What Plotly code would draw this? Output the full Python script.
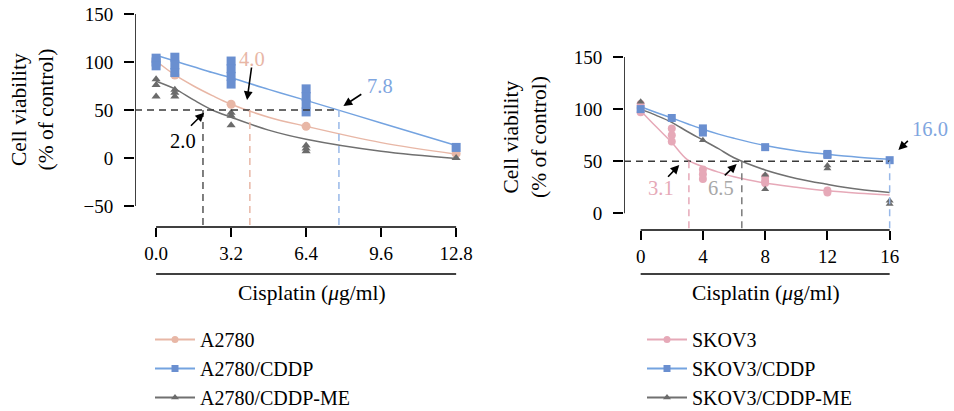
import plotly.graph_objects as go

# ---------------- A2780 panel ----------------
A_DOSE = [0, 0.8, 3.2, 6.4, 12.8]
A2780_REPS = [[101], [86.5], [56], [33], [4.5]]
A2780_CDDP_REPS = [[104, 100, 96], [105, 97, 89], [101, 93, 85, 77], [72, 64, 56, 48], [11]]
A2780_ME_REPS = [[82, 76, 64], [71, 68, 64], [47, 44, 34], [13, 10, 7], [0]]

A_FIT_X = [0, 0.8, 1.6, 2.4, 3.2, 4.8, 6.4, 9.6, 12.8]
A2780_FIT = [101, 86.5, 75, 65, 56, 42.5, 33, 16, 4]
A2780_CDDP_FIT = [107, 101, 95, 89, 83.5, 71.5, 60, 36.5, 13]
A2780_ME_FIT = [80, 72, 60.5, 50, 42.5, 29, 19.5, 7, -0.5]

A_IC50 = {"A2780": 4.0, "A2780/CDDP": 7.8, "A2780/CDDP-ME": 2.0}
A_XTICKS = [0, 3.2, 6.4, 9.6, 12.8]
A_YTICKS = [-50, 0, 50, 100, 150]

# ---------------- SKOV3 panel ----------------
S_DOSE = [0, 2, 4, 8, 12, 16]
SKOV3_REPS = [[105, 101, 97], [81.5, 75, 69], [42, 37.5, 33], [35, 31, 29], [22, 20], []]
SKOV3_CDDP_REPS = [[100], [91.5], [81.5, 77.5], [63.5], [57, 56], [51]]
SKOV3_ME_REPS = [[107], [], [70], [37, 23], [46, 43], [12, 9]]

S_FIT_X = [0, 1, 2, 3, 4, 5, 6, 8, 10, 12, 14, 16]
SKOV3_FIT = [98.5, 83, 68, 51.5, 44.7, 39.5, 35, 29, 25, 21.6, 19.3, 17.6]
SKOV3_CDDP_FIT = [102.3, 96.8, 91.5, 86, 80.6, 76, 72, 65, 60, 56.6, 53.8, 51.8]
SKOV3_ME_FIT = [100, 94, 87.3, 78.5, 70.3, 62, 53.3, 41.6, 33.5, 27.8, 23, 20]

S_IC50 = {"SKOV3": 3.1, "SKOV3/CDDP": 16.0, "SKOV3/CDDP-ME": 6.5}
S_XTICKS = [0, 4, 8, 12, 16]
S_YTICKS = [0, 50, 100, 150]

# ---------------- styling ----------------
FONT = "Liberation Serif"
PINK_A = "#e8b7a6"
PINK_S = "#e6a9b8"
BLUE_M = "#6a8fd0"
BLUE_L = "#74a3e0"
BLUE_D = "#98b8e8"
GREY_M = "#6b6b6b"
GREY_L = "#707070"

A_XRANGE = [-0.9, 13.4]
A_YRANGE = [-71.9, 150]
S_XRANGE = [-1.07, 19.8]
S_YRANGE = [-16.0, 150]


def flatten(doses, reps):
    xs = [d for d, r in zip(doses, reps) for _ in r]
    ys = [v for r in reps for v in r]
    return xs, ys


fig = go.Figure()


def add_panel(xa, ya, doses, fit_x, series, legend):
    # series: list of (name, reps, fit, marker_symbol, marker_color, line_color, msize)
    for name, reps, fit, sym, mcol, lcol, msz in series:
        fig.add_trace(go.Scatter(
            x=fit_x, y=fit, mode="lines", line=dict(color=lcol, width=1.5, shape="spline"),
            xaxis=xa, yaxis=ya, showlegend=False, hoverinfo="skip"))
    for name, reps, fit, sym, mcol, lcol, msz in series:
        xs, ys = flatten(doses, reps)
        fig.add_trace(go.Scatter(
            x=xs, y=ys, mode="markers", cliponaxis=False,
            marker=dict(symbol=sym, color=mcol, size=msz, line=dict(width=0)),
            xaxis=xa, yaxis=ya, showlegend=False))
    for name, reps, fit, sym, mcol, lcol, msz in series:
        fig.add_trace(go.Scatter(
            x=[None], y=[None], mode="lines+markers", name=name,
            line=dict(color=lcol, width=2), marker=dict(symbol=sym, color=mcol, size=7),
            xaxis=xa, yaxis=ya, legend=legend))


add_panel("x", "y", A_DOSE, A_FIT_X, [
    ("A2780", A2780_REPS, A2780_FIT, "circle", PINK_A, PINK_A, 9),
    ("A2780/CDDP", A2780_CDDP_REPS, A2780_CDDP_FIT, "square", BLUE_M, BLUE_L, 9),
    ("A2780/CDDP-ME", A2780_ME_REPS, A2780_ME_FIT, "triangle-up", GREY_M, GREY_L, 8),
], "legend")
add_panel("x2", "y2", S_DOSE, S_FIT_X, [
    ("SKOV3", SKOV3_REPS, SKOV3_FIT, "circle", PINK_S, PINK_S, 8),
    ("SKOV3/CDDP", SKOV3_CDDP_REPS, SKOV3_CDDP_FIT, "square", BLUE_M, BLUE_L, 8),
    ("SKOV3/CDDP-ME", SKOV3_ME_REPS, SKOV3_ME_FIT, "triangle-up", GREY_M, GREY_L, 7),
], "legend2")

shapes = []
DASH = "7px,5px"


def panel_shapes(xr, yr, yticks, xmax, ic50, colors, xa, ya, dom_y0, under_y):
    # y axis line spanning the tick range
    shapes.append(dict(type="line", xref=xa, yref=ya, x0=xr[0], x1=xr[0],
                       y0=min(yticks), y1=max(yticks), line=dict(color="black", width=1.5)))
    # x axis line spanning the dose range
    shapes.append(dict(type="line", xref=xa, yref="paper", x0=0, x1=xmax,
                       y0=dom_y0, y1=dom_y0, line=dict(color="black", width=1.5)))
    # rule beneath the tick labels
    shapes.append(dict(type="line", xref=xa, yref="paper", x0=0, x1=xmax,
                       y0=under_y, y1=under_y, line=dict(color="black", width=1.5)))
    # 50 % reference line
    shapes.append(dict(type="line", xref=xa, yref=ya, x0=xr[0], x1=max(ic50.values()),
                       y0=50, y1=50, line=dict(color="#3a3a3a", width=1.5, dash=DASH)))
    for name, v in ic50.items():
        shapes.append(dict(type="line", xref=xa, yref=ya, x0=v, x1=v, y0=50, y1=yr[0],
                           line=dict(color=colors[name], width=1.5, dash=DASH)))


W, H = 954, 411
A_DOM_X = [135 / W, 470.2 / W]
A_DOM_Y = [1 - 227 / H, 1 - 14 / H]
S_DOM_X = [624 / W, 948.8 / W]
S_DOM_Y = [1 - 230 / H, 1 - 57 / H]
UNDER_Y = 1 - 274 / H

panel_shapes(A_XRANGE, A_YRANGE, A_YTICKS, max(A_DOSE), A_IC50,
             {"A2780": PINK_A, "A2780/CDDP": BLUE_D, "A2780/CDDP-ME": "#555555"},
             "x", "y", A_DOM_Y[0], UNDER_Y)
panel_shapes(S_XRANGE, S_YRANGE, S_YTICKS, max(S_DOSE), S_IC50,
             {"SKOV3": PINK_S, "SKOV3/CDDP": BLUE_D, "SKOV3/CDDP-ME": "#7a7a7a"},
             "x2", "y2", S_DOM_Y[0], UNDER_Y)

ann = []


def txtfont(color, size=20):
    return dict(family=FONT, size=size, color=color)


def label(xa, ya, x, y, text, color):
    ann.append(dict(xref=xa, yref=ya, x=x, y=y, text=text, showarrow=False,
                    xanchor="center", yanchor="middle", font=txtfont(color, 20.5)))


def arrow(xa, ya, x, y, ax, ay):
    ann.append(dict(xref=xa, yref=ya, x=x, y=y, text="", showarrow=True, ax=ax, ay=ay,
                    arrowhead=2, arrowsize=1.1, arrowwidth=1.6, arrowcolor="black", standoff=0))


# IC50 call-outs (text placed beside the arrow pointing at the 50 % crossing)
label("x", "y", 4.08, 103, f"{A_IC50['A2780']:.1f}", PINK_A)
arrow("x", "y", 3.88, 60.4, 4.7, -34)
label("x", "y", 9.56, 75.3, f"{A_IC50['A2780/CDDP']:.1f}", "#7fa6e0")
arrow("x", "y", 7.99, 54.2, 19.4, -12.7)
label("x", "y", 1.16, 17.7, f"{A_IC50['A2780/CDDP-ME']:.1f}", "black")
arrow("x", "y", 2.05, 47.2, -14.7, 14.6)

label("x2", "y2", 18.6, 80.6, f"{S_IC50['SKOV3/CDDP']:.1f}", "#7fa6e0")
arrow("x2", "y2", 16.56, 60.7, 11, -10.7)
label("x2", "y2", 1.30, 24.0, f"{S_IC50['SKOV3']:.1f}", PINK_S)
arrow("x2", "y2", 2.48, 46.4, -12.6, 13.3)
label("x2", "y2", 5.14, 24.0, f"{S_IC50['SKOV3/CDDP-ME']:.1f}", "#a8a8a8")
arrow("x2", "y2", 6.17, 47.3, -13.4, 12.7)

# axis titles
YT = "Cell viability<br>(% of control)"
XT = "Cisplatin (<i>μ</i>g/ml)"
for x, y, t, ang in [(32.5, 110, YT, -90), (525, 137, YT, -90),
                     (311.7, 293, XT, 0), (765.5, 293, XT, 0)]:
    ann.append(dict(xref="paper", yref="paper", x=x / W, y=1 - y / H, text=t, textangle=ang,
                    xanchor="center", yanchor="middle", showarrow=False,
                    font=txtfont("black", 21.5)))

AX = dict(showgrid=False, zeroline=False, showline=False, ticks="outside", ticklen=9,
          tickwidth=1.5, tickcolor="black", automargin=False,
          tickfont=dict(family=FONT, size=19, color="black"))

LEG = dict(xanchor="left", yanchor="top", bgcolor="rgba(0,0,0,0)",
           font=dict(family=FONT, size=20, color="black"), itemwidth=40, tracegroupgap=0)

fig.update_layout(
    width=W, height=H, margin=dict(l=0, r=0, t=0, b=0, autoexpand=False),
    paper_bgcolor="white", plot_bgcolor="white",
    font=dict(family=FONT, size=19, color="black"),
    xaxis=dict(AX, domain=A_DOM_X, range=A_XRANGE, anchor="y", tickvals=A_XTICKS,
               tickformat=".1f"),
    yaxis=dict(AX, domain=A_DOM_Y, range=A_YRANGE, anchor="x", tickvals=A_YTICKS, ticklen=10,
               ticklabelstandoff=7),
    xaxis2=dict(AX, domain=S_DOM_X, range=S_XRANGE, anchor="y2", tickvals=S_XTICKS),
    yaxis2=dict(AX, domain=S_DOM_Y, range=S_YRANGE, anchor="x2", tickvals=S_YTICKS, ticklen=10,
                ticklabelstandoff=7),
    legend=dict(LEG, x=150 / W, y=1 - 320 / H),
    legend2=dict(LEG, x=642 / W, y=1 - 320 / H),
    shapes=shapes, annotations=ann,
)

fig.write_html("out.html")
